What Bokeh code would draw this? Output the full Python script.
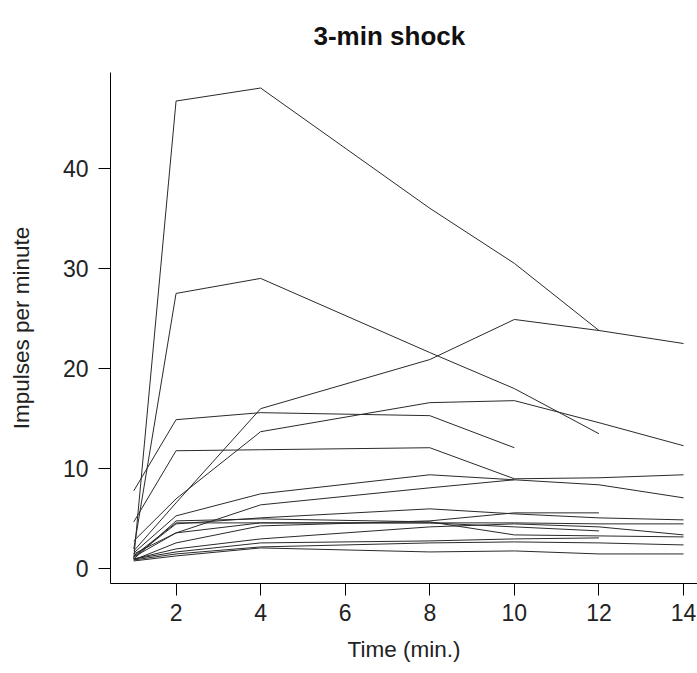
from bokeh.plotting import figure
from bokeh.embed import file_html
from bokeh.resources import INLINE
from bokeh.models import FixedTicker

TIME = [1, 2, 4, 8, 10, 12, 14]

s01 = [1.0, 46.7, 48.0, 36.0, 30.5, 23.8]
s02 = [2.0, 27.5, 29.0, 21.6, 18.0, 13.5]
s03 = [1.8, 6.6, 16.0, 20.9, 24.9, 23.8, 22.5]
s04 = [7.8, 14.9, 15.6, 15.3, 12.1]
s05 = [4.7, 11.8, 11.9, 12.1, 9.0, 9.1, 9.4]
s06 = [2.8, 7.0, 13.7, 16.6, 16.8, 14.6, 12.3]
s07 = [1.6, 5.3, 7.5, 9.4, 8.9, 8.4, 7.1]
s08 = [1.2, 3.6, 6.4, 8.1, 8.9]
s09 = [1.2, 4.5, 5.1, 6.0, 5.5, 5.1, 4.9]
s10 = [1.0, 4.8, 5.0, 4.7, 3.4, 3.3, 3.2]
s11 = [1.3, 4.6, 4.6, 4.6, 4.6, 4.5, 4.5]
s12 = [0.9, 2.6, 4.3, 4.8, 5.6, 5.6]
s13 = [1.0, 2.0, 3.0, 4.2, 4.5, 4.2, 3.4]
s14 = [1.5, 3.6, 4.6, 4.6, 4.2, 3.8]
s15 = [1.0, 1.7, 2.6, 2.8, 3.0, 3.1]
s16 = [0.9, 1.5, 2.2, 2.6, 2.7, 2.6, 2.4]
s17 = [0.8, 1.3, 2.1, 1.7, 1.8, 1.5, 1.5]

SUBJECTS = [s01, s02, s03, s04, s05, s06, s07, s08, s09, s10, s11, s12,
            s13, s14, s15, s16, s17]

X_TICKS = [2, 4, 6, 8, 10, 12, 14]
Y_TICKS = [0, 10, 20, 30, 40]

FONT = "Liberation Sans"

p = figure(width=697, height=673, x_range=(0.45, 14.33), y_range=(-1.45, 49.55),
           output_backend="svg", toolbar_location=None,
           min_border_left=110, min_border_right=0, min_border_top=72,
           min_border_bottom=90, title="3-min shock")

for vals in SUBJECTS:
    p.line(TIME[:len(vals)], vals, line_color="#2a2a2a", line_width=1.0)

p.grid.visible = False
p.outline_line_color = None
p.background_fill_color = "white"
p.border_fill_color = "white"

p.title.text_font = FONT
p.title.text_font_size = "26px"
p.title.text_font_style = "bold"
p.title.text_color = "#111111"
p.title.align = "left"
p.title.offset = 203
p.title.vertical_align = "top"
p.title.standoff = 40

for ax in (p.xaxis[0], p.yaxis[0]):
    ax.axis_line_color = "black"
    ax.axis_line_width = 1
    ax.major_tick_line_color = "black"
    ax.major_tick_out = 12
    ax.major_tick_in = 0
    ax.minor_tick_line_color = None
    ax.major_label_text_font = FONT
    ax.major_label_text_font_size = "23px"
    ax.major_label_text_color = "#222222"
    ax.axis_label_text_font = FONT
    ax.axis_label_text_font_size = "22.5px"
    ax.axis_label_text_font_style = "normal"
    ax.axis_label_text_color = "#222222"

p.xaxis.ticker = FixedTicker(ticks=X_TICKS)
p.yaxis.ticker = FixedTicker(ticks=Y_TICKS)
p.xaxis.axis_label = "Time (min.)"
p.yaxis.axis_label = "Impulses per minute"
p.yaxis.major_label_orientation = "horizontal"
p.xaxis.major_label_standoff = 8
p.yaxis.major_label_standoff = 10
p.xaxis.axis_label_standoff = 13
p.yaxis.axis_label_standoff = 26

open("out.html", "w").write(file_html(p, INLINE))
